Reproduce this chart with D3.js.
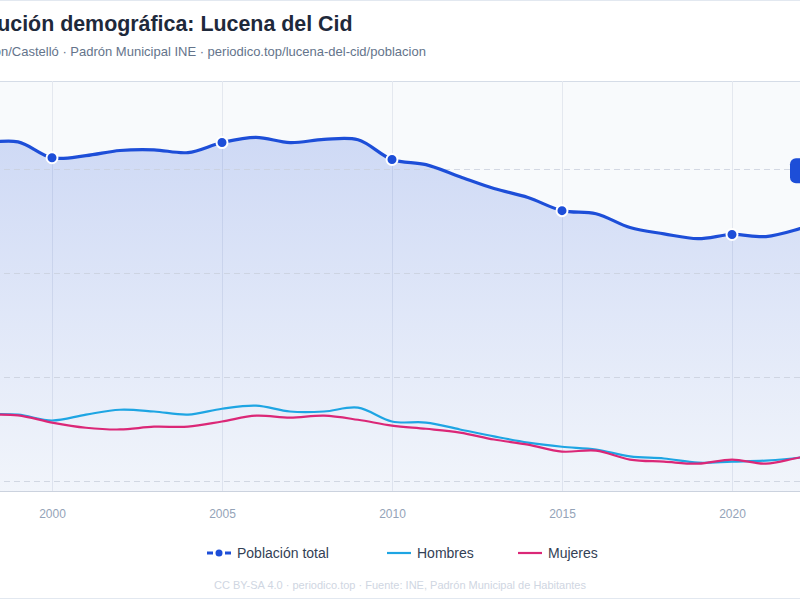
<!DOCTYPE html>
<html>
<head>
<meta charset="utf-8">
<script src="https://cdn.jsdelivr.net/npm/d3@7"></script>
<style>
  html, body { margin: 0; padding: 0; background: #ffffff; overflow: hidden; }
  svg { display: block; font-family: "Liberation Sans", Arial, sans-serif; }
</style>
</head>
<body>
<div id="chart"></div>
<script>
// --------------------------------------
//  Data
// --------------------------------------

const years   = [1998, 1999, 2000, 2001, 2002, 2003, 2004, 2005, 2006, 2007, 2008, 2009, 2010,
                 2011, 2012, 2013, 2014, 2015, 2016, 2017, 2018, 2019, 2020, 2021, 2022, 2023];
const total   = [1575, 1580, 1534, 1540, 1555, 1557, 1549, 1578, 1593, 1578, 1587, 1586, 1529,
                 1514, 1479, 1445, 1419, 1381, 1372, 1332, 1314, 1300, 1312, 1306, 1329, 1362];
const hombres = [792, 791, 774, 791, 805, 800, 791, 808, 817, 800, 800, 811, 771,
                 768, 748, 728, 710, 698, 690, 670, 664, 652, 655, 658, 667, 684];
const mujeres = [790, 789, 768, 753, 748, 756, 756, 771, 788, 782, 788, 776, 759,
                 750, 739, 719, 704, 684, 687, 661, 655, 649, 661, 649, 667, 680];

const yTicks = [600, 900, 1200, 1500];
const xTicks = [2000, 2005, 2010, 2015, 2020];
const dotYears = [2000, 2005, 2010, 2015, 2020];

const legendItems = [
  { key: "total", label: "Población total", color: "#1d4ed8" },
  { key: "hombres", label: "Hombres", color: "#1ea5e3" },
  { key: "mujeres", label: "Mujeres", color: "#db2777" }
];

// --------------------------------------
//  Canvas (card is wider than the window)
// --------------------------------------

const width = 800;
const height = 600;
const card = {left: -62, right: 866, top: 0, bottom: 598};
const plot = {left: -16, right: 834, top: 81, bottom: 491};

const svg = d3.select("#chart")
  .append("svg")
    .attr("width", width)
    .attr("height", height);

svg.append("rect")
    .attr("x", card.left + 0.5)
    .attr("y", card.top + 0.5)
    .attr("width", card.right - card.left)
    .attr("height", card.bottom - card.top)
    .attr("rx", 10)
    .attr("fill", "#ffffff")
    .attr("stroke", "#e2e8f0");

// --------------------------------------
//  Scales
// --------------------------------------

const x = d3.scaleLinear()
    .domain([d3.min(years), d3.max(years)])
    .range([plot.left, plot.right]);

const y = d3.scaleLinear()
    .domain([570, 1756])
    .range([plot.bottom, plot.top]);

const rows = years.map((yr, i) => ({year: yr, total: total[i], hombres: hombres[i], mujeres: mujeres[i]}));

// --------------------------------------
//  Titles
// --------------------------------------

svg.append("text")
    .attr("x", card.left + 14)
    .attr("y", 31)
    .attr("font-size", 21.4)
    .attr("font-weight", "bold")
    .attr("fill", "#1e293b")
    .text("Evolución demográfica: Lucena del Cid");

svg.append("text")
    .attr("x", card.left + 16)
    .attr("y", 56)
    .attr("font-size", 13)
    .attr("fill", "#64748b")
    .text("Castellón/Castelló · Padrón Municipal INE · periodico.top/lucena-del-cid/poblacion");

// --------------------------------------
//  Plot background and grid
// --------------------------------------

const defs = svg.append("defs");
const grad = defs.append("linearGradient")
    .attr("id", "areaGrad")
    .attr("x1", 0).attr("y1", 0).attr("x2", 0).attr("y2", 1);
grad.append("stop").attr("offset", "0%").attr("stop-color", "#1d4ed8").attr("stop-opacity", 0.19);
grad.append("stop").attr("offset", "100%").attr("stop-color", "#1d4ed8").attr("stop-opacity", 0.03);

svg.append("rect")
    .attr("x", plot.left)
    .attr("y", plot.top)
    .attr("width", plot.right - plot.left)
    .attr("height", plot.bottom - plot.top)
    .attr("fill", "#f8fafc");

svg.append("line")
    .attr("x1", plot.left).attr("x2", plot.right)
    .attr("y1", plot.top + 0.5).attr("y2", plot.top + 0.5)
    .attr("stroke", "#d5dce7");

svg.append("g")
  .selectAll("line")
  .data(xTicks)
  .join("line")
    .attr("x1", d => x(d) + 0.5).attr("x2", d => x(d) + 0.5)
    .attr("y1", plot.top).attr("y2", plot.bottom)
    .attr("stroke", "#e4e8ef");

// area under total
svg.append("path")
    .datum(rows)
    .attr("fill", "url(#areaGrad)")
    .attr("d", d3.area()
        .x(d => x(d.year))
        .y0(plot.bottom)
        .y1(d => y(d.total))
        .curve(d3.curveCatmullRom));

svg.append("g")
  .selectAll("line")
  .data(yTicks)
  .join("line")
    .attr("x1", plot.left).attr("x2", plot.right)
    .attr("y1", d => Math.round(y(d)) + 0.5).attr("y2", d => Math.round(y(d)) + 0.5)
    .attr("stroke", "#c9d0dc")
    .attr("stroke-opacity", 0.8)
    .attr("stroke-dasharray", "6,4");

// x axis
const xAxis = svg.append("g")
    .attr("transform", `translate(0, ${plot.bottom})`)
    .call(d3.axisBottom(x)
        .tickValues(xTicks)
        .tickFormat(d3.format("d"))
        .tickSize(0)
        .tickPadding(18));
xAxis.select(".domain").attr("stroke", "#cbd2de");
xAxis.selectAll("text")
    .attr("fill", "#94a3b8")
    .attr("font-size", 12)
    .attr("font-family", "Liberation Sans, Arial, sans-serif");

// --------------------------------------
//  Lines
// --------------------------------------

const line = key => d3.line()
    .x(d => x(d.year))
    .y(d => y(d[key]))
    .curve(d3.curveCatmullRom);

svg.append("path")
    .datum(rows)
    .attr("fill", "none")
    .attr("stroke", "#1ea5e3")
    .attr("stroke-width", 2.2)
    .attr("d", line("hombres"));

svg.append("path")
    .datum(rows)
    .attr("fill", "none")
    .attr("stroke", "#db2777")
    .attr("stroke-width", 2.2)
    .attr("d", line("mujeres"));

svg.append("path")
    .datum(rows)
    .attr("fill", "none")
    .attr("stroke", "#1d4ed8")
    .attr("stroke-width", 3.2)
    .attr("d", line("total"));

svg.append("g")
  .selectAll("circle")
  .data(rows.filter(d => dotYears.includes(d.year)))
  .join("circle")
    .attr("cx", d => x(d.year))
    .attr("cy", d => y(d.total))
    .attr("r", 5.5)
    .attr("fill", "#1d4ed8")
    .attr("stroke", "#ffffff")
    .attr("stroke-width", 2);

// last value label
const last = rows[rows.length - 1];
const lab = svg.append("g")
    .attr("transform", `translate(${x(last.year)}, ${y(last.total) - 46})`);
lab.append("rect")
    .attr("x", -44).attr("y", -13)
    .attr("width", 88).attr("height", 25)
    .attr("rx", 6)
    .attr("fill", "#1d4ed8");
lab.append("text")
    .attr("text-anchor", "middle")
    .attr("dy", "0.35em")
    .attr("font-size", 12)
    .attr("font-weight", "bold")
    .attr("fill", "#ffffff")
    .text(d3.format(",")(last.total).replace(",", "."));

// --------------------------------------
//  Legend
// --------------------------------------

const legendX = [207, 387, 518];
const legend = svg.append("g");
const items = legend.selectAll("g")
  .data(legendItems)
  .join("g")
    .attr("transform", (d, i) => `translate(${legendX[i]}, 553)`);

items.append("line")
    .attr("x1", 0).attr("x2", 24)
    .attr("stroke", d => d.color)
    .attr("stroke-width", d => d.key === "total" ? 3 : 2.2)
    .attr("stroke-dasharray", d => d.key === "total" ? "6,3" : null);

items.filter(d => d.key === "total")
  .append("circle")
    .attr("cx", 12)
    .attr("r", 3.5)
    .attr("fill", d => d.color);

items.append("text")
    .attr("x", 30)
    .attr("dy", "0.35em")
    .attr("font-size", 14)
    .attr("fill", "#334155")
    .text(d => d.label);

svg.append("text")
    .attr("x", 400)
    .attr("y", 589)
    .attr("text-anchor", "middle")
    .attr("font-size", 11)
    .attr("fill", "#cfd6e2")
    .text("CC BY-SA 4.0 · periodico.top · Fuente: INE, Padrón Municipal de Habitantes");
</script>
</body>
</html>
